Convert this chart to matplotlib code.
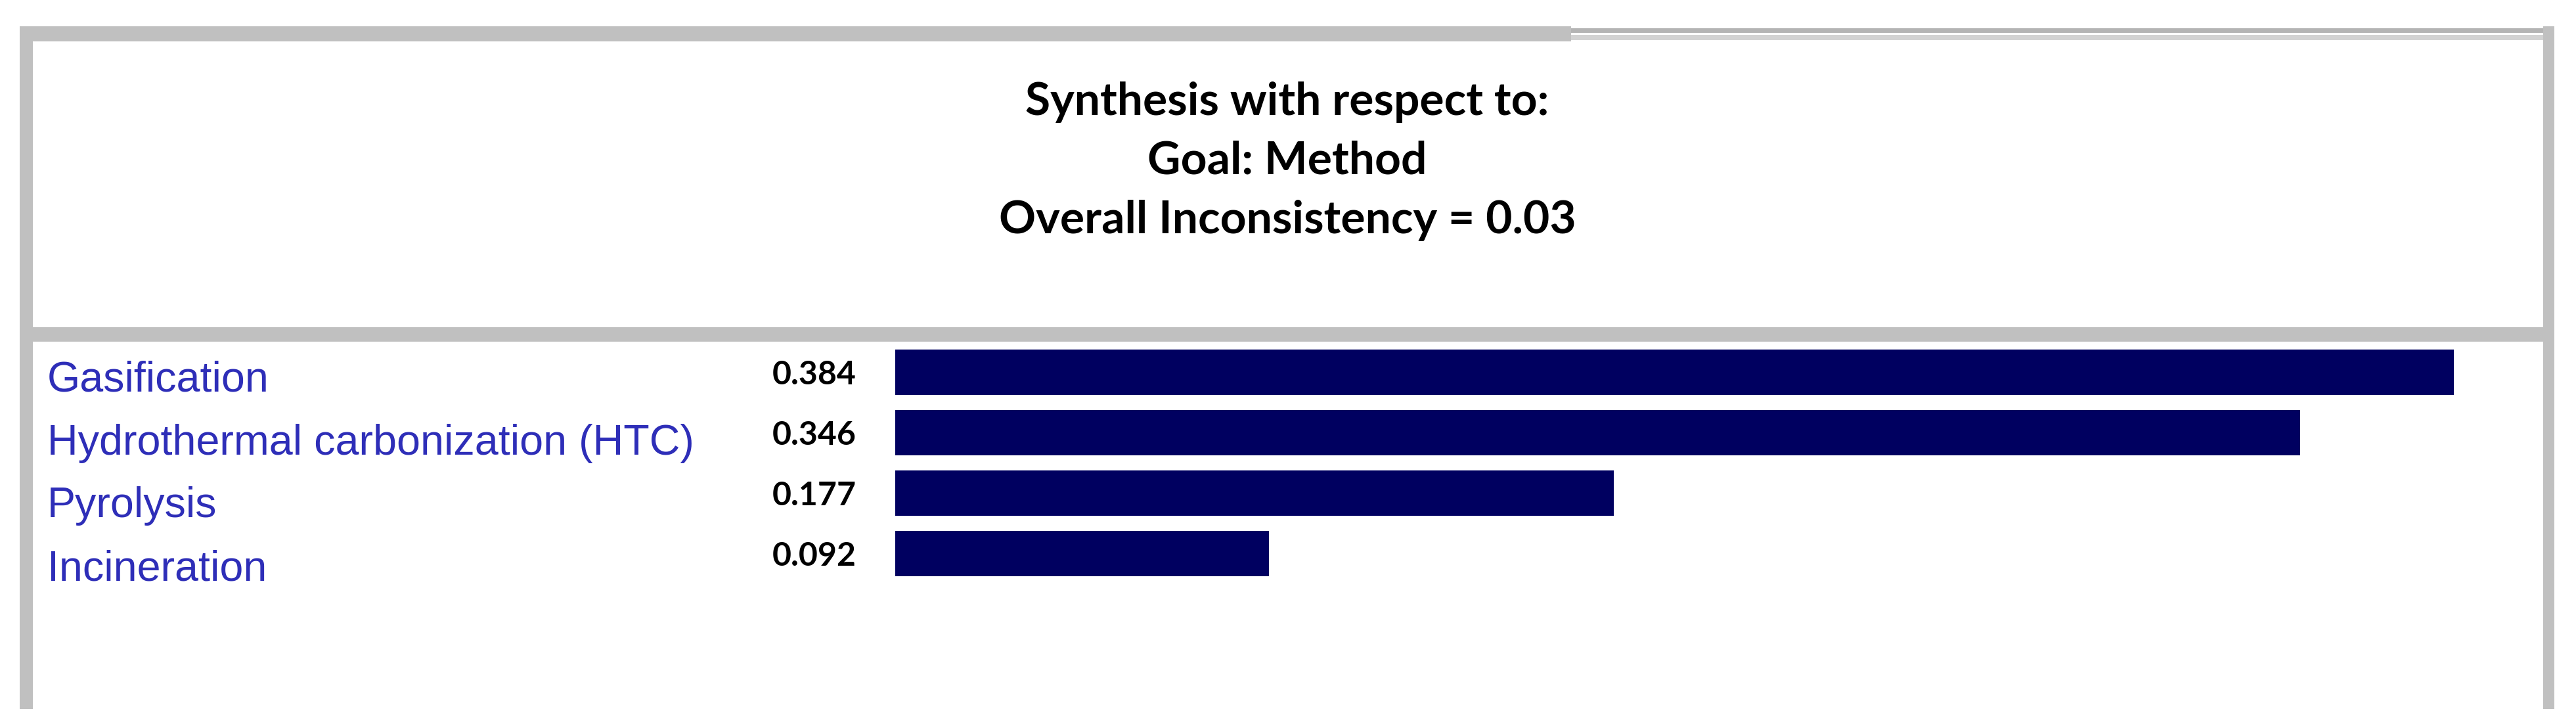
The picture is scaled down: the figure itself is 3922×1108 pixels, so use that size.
import matplotlib
matplotlib.use("Agg")
import matplotlib.pyplot as plt
from matplotlib.patches import Rectangle
from matplotlib import transforms

# data
methods = ["Gasification", "Hydrothermal carbonization (HTC)", "Pyrolysis", "Incineration"]
weights = [0.384, 0.346, 0.177, 0.092]
title_lines = ["Synthesis with respect to:", "Goal: Method", "Overall Inconsistency = 0.03"]

W, H = 3922, 1108
DPI = 100

BAR_COLOR = "#000060"
LABEL_COLOR = "#2e2eb8"
GRAY = "#c0c0c0"


def box(px0, py0, px1, py1):
    # pixel box (top-left origin) -> figure fraction [l, b, w, h]
    return [px0 / W, 1 - py1 / H, (px1 - px0) / W, (py1 - py0) / H]


def rect(fig, px0, py0, px1, py1, color):
    l, b, w, h = box(px0, py0, px1, py1)
    fig.patches.append(Rectangle((l, b), w, h, transform=fig.transFigure,
                                 facecolor=color, edgecolor="none", zorder=0))


fig = plt.figure(figsize=(W / DPI, H / DPI), dpi=DPI)
fig.patch.set_facecolor("white")

# window frame
rect(fig, 30, 40, 2392, 63, GRAY)
rect(fig, 2392, 43, 3872, 50, "#b4b4b4")
rect(fig, 2392, 53, 3872, 61, "#d2d2d2")
rect(fig, 30, 40, 50, 1079, GRAY)
rect(fig, 3872, 40, 3889, 1079, GRAY)
rect(fig, 50, 498, 3872, 520, GRAY)

# header
for line, base in zip(title_lines, [175, 264, 355]):
    fig.text(1960 / W, 1 - base / H, line, ha="center", va="baseline",
             family="Lato", fontweight="bold", fontsize=50, color="black")

# bars
ax = fig.add_axes(box(1363, 520, 3860, 889))
ypos = list(range(len(methods)))
ax.barh(ypos, weights, height=0.75, color=BAR_COLOR, edgecolor="none")
ax.set_ylim(len(methods) - 0.5, -0.5)
ax.set_xlim(0, 0.404)
ax.axis("off")

# numeric values left of the bars
tv = transforms.blended_transform_factory(fig.transFigure, ax.transData)
for y, v in zip(ypos, weights):
    ax.text(1304 / W, y, f"{v:.3f}", transform=tv, ha="right", va="center_baseline",
            family="Lato", fontweight="bold", fontsize=36, color="black", clip_on=False)

# category names
ax_lab = fig.add_axes(box(53, 524, 1340, 908))
ax_lab.set_ylim(len(methods) - 0.5, -0.5)
ax_lab.set_xlim(0, 1)
ax_lab.axis("off")
for y, name in zip(ypos, methods):
    ax_lab.text((72 - 53) / (1340 - 53), y, name, ha="left", va="center_baseline",
                family="Liberation Sans", fontsize=46.5, color=LABEL_COLOR)

fig.savefig("out.png", dpi=DPI)
